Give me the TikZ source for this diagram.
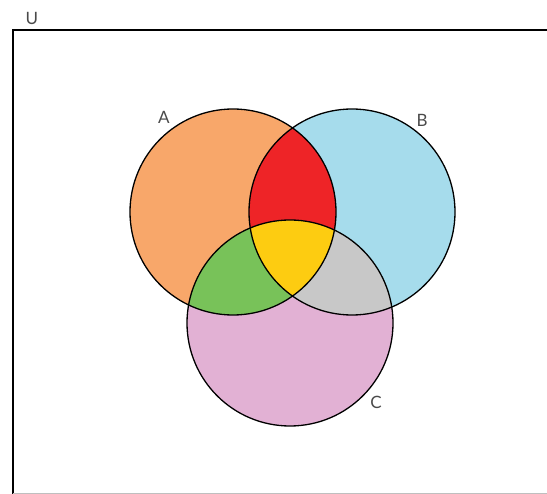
\documentclass[tikz,border=0pt]{standalone}
\usepackage{fontspec}
\setmainfont{Lato}
\usepackage{tikz}
\usetikzlibrary{positioning}
\definecolor{setA}{HTML}{F8A76A}
\definecolor{setB}{HTML}{A6DCEC}
\definecolor{setC}{HTML}{E2B1D4}
\definecolor{setAB}{HTML}{EE2427}
\definecolor{setAC}{HTML}{78C259}
\definecolor{setBC}{HTML}{C8C8C8}
\definecolor{setABC}{HTML}{FDCC11}
\definecolor{labelgray}{HTML}{4A4A4A}
\newcommand{\rad}{103}

\begin{document}
\begin{tikzpicture}[
  x=1pt, y=-1pt,
  setlabel/.style={text=labelgray,font=\fontsize{17}{20}\selectfont,inner sep=0pt},
  outline/.style={draw=black,line width=1.3pt}
]
\useasboundingbox (0,0) rectangle (547,494);
\coordinate (a) at (233,212);
\coordinate (b) at (352,212);
\coordinate (c) at (290,323);
% universe
\draw[line width=2pt] (560,30) -- (13,30) -- (13,500);
\draw[line width=2pt,black!25] (13,494.5) -- (560,494.5);
\node[setlabel] (u) at (32,18) {U};
% plain sets
\fill[setA] (a) circle (\rad);
\fill[setB] (b) circle (\rad);
\fill[setC] (c) circle (\rad);
% pairwise overlaps
\begin{scope}
  \clip (a) circle (\rad);
  \fill[setAB] (b) circle (\rad);
  \fill[setAC] (c) circle (\rad);
\end{scope}
\begin{scope}
  \clip (b) circle (\rad);
  \fill[setBC] (c) circle (\rad);
\end{scope}
% all three
\begin{scope}
  \clip (a) circle (\rad);
  \clip (b) circle (\rad);
  \fill[setABC] (c) circle (\rad);
\end{scope}
\draw[outline] (a) circle (\rad);
\draw[outline] (b) circle (\rad);
\draw[outline] (c) circle (\rad);
\node[setlabel] (la) at (164,117) {A};
\node[setlabel] (lb) at (422,120) {B};
\node[setlabel] (lc) at (376,402) {C};
\end{tikzpicture}
\end{document}
